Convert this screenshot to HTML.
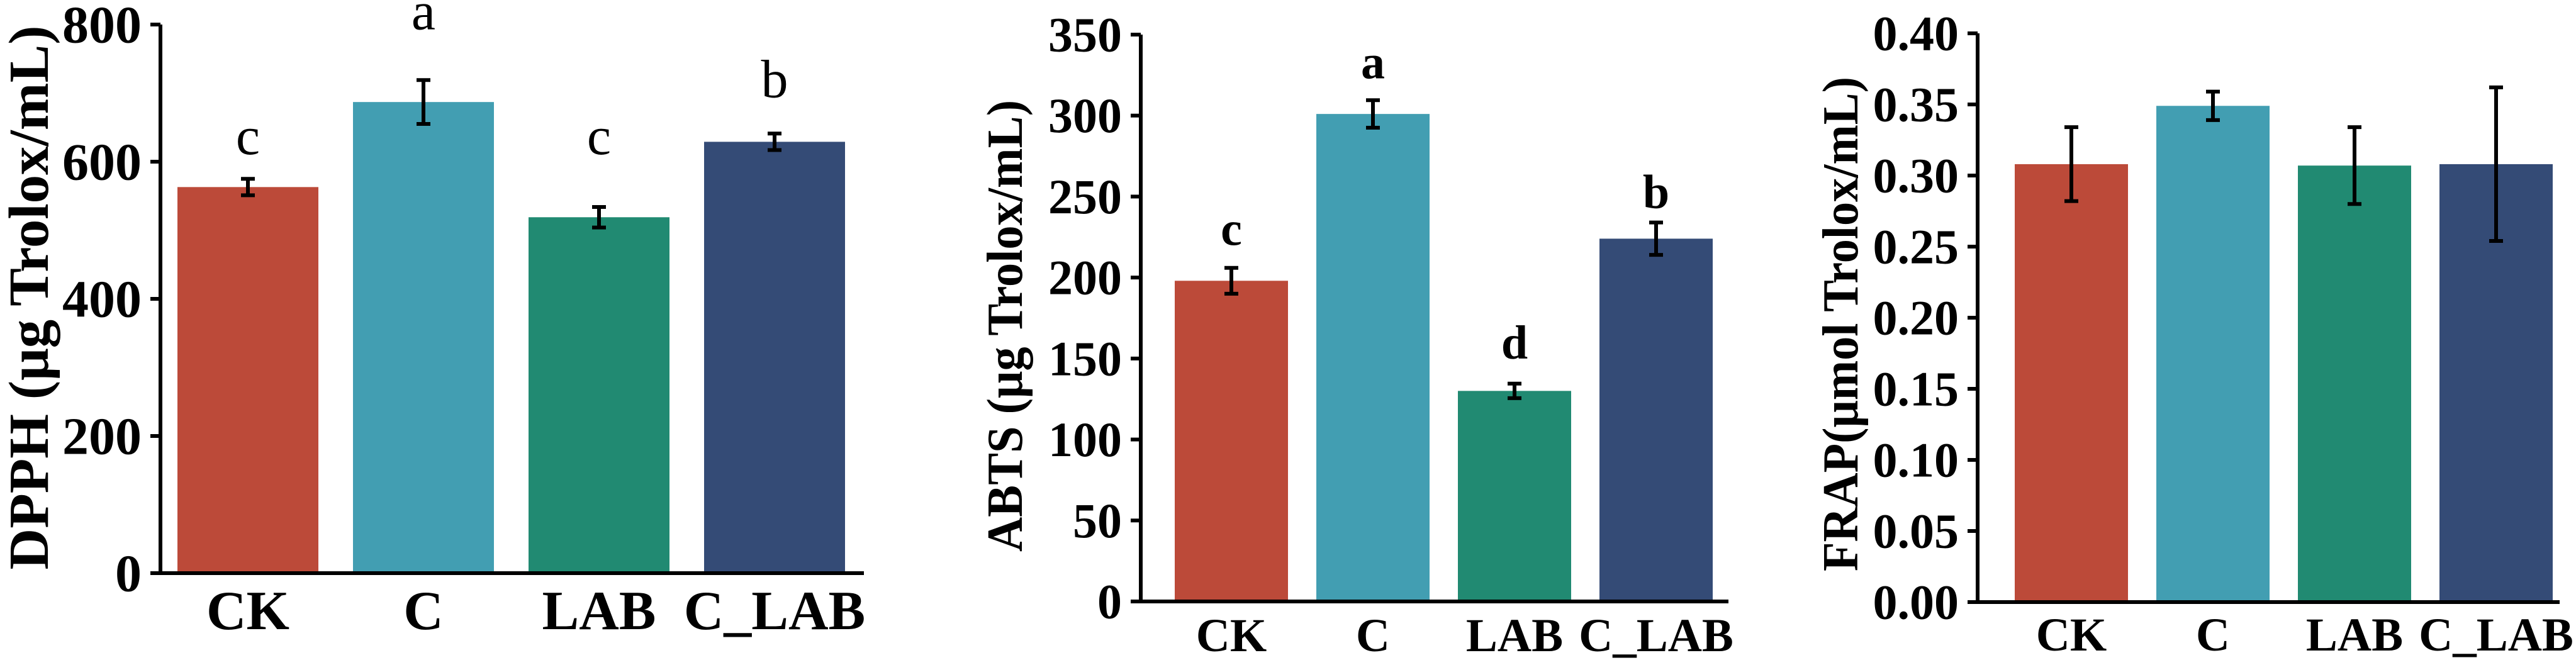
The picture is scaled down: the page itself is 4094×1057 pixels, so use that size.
<!DOCTYPE html>
<html><head><meta charset="utf-8"><style>
html,body{margin:0;padding:0;background:#fff;}
svg{display:block;font-family:"Liberation Serif","DejaVu Serif",serif;}
</style></head><body>
<svg id="chart" width="4094" height="1057" viewBox="0 0 4094 1057" xmlns="http://www.w3.org/2000/svg"></svg>
<script>
const categories = ["CK","C","LAB","C_LAB"];
const colors = ["#BC4A39","#429EB2","#218A72","#344B76"];
const dpphValues = [563, 687, 519, 629];
const dpphErrors = [12, 32, 15, 12];
const dpphLetters = ["c","a","c","b"];
const dpphLetterPos = [611, 793, 611, 694];
const dpphTicks = [0,200,400,600,800];
const abtsValues = [198, 301, 130, 224];
const abtsErrors = [8, 8.5, 4.5, 10];
const abtsLetters = ["c","a","d","b"];
const abtsLetterPos = [220, 323, 150, 243];
const abtsTicks = [0,50,100,150,200,250,300,350];
const frapValues = [0.308, 0.349, 0.307, 0.308];
const frapErrors = [0.026, 0.010, 0.027, 0.054];
const frapTicks = [0,0.05,0.10,0.15,0.20,0.25,0.30,0.35,0.40];
const frapTickLabels = ["0.00","0.05","0.10","0.15","0.20","0.25","0.30","0.35","0.40"];

const NS="http://www.w3.org/2000/svg";
const svg=document.getElementById('chart');
function mk(tag,attrs,parent){const e=document.createElementNS(NS,tag);for(const k in attrs)e.setAttribute(k,attrs[k]);(parent||svg).appendChild(e);return e;}

function panel(cfg){
  const g=mk('g',{});
  
  
  const y=v=>cfg.y0-(v-cfg.min)/(cfg.max-cfg.min)*(cfg.y0-cfg.yTop);
  const x=i=>cfg.firstLeft+i*cfg.pitch;
  // bars
  cfg.values.forEach((v,i)=>{
    const r=mk('rect',{x:x(i),y:y(v),width:cfg.bw,height:cfg.y0-y(v),fill:colors[i]},g);
    
    
    const cx=x(i)+cfg.bw/2, t=y(v+cfg.errors[i]), b=y(v-cfg.errors[i]);
    const eb=mk('path',{d:`M${cx},${t}V${b}M${cx-11},${t}H${cx+11}M${cx-11},${b}H${cx+11}`,stroke:'#000','stroke-width':6,fill:'none'},g);
    
    
    if(cfg.letters){
      const lt=mk('text',{x:cx,y:y(cfg.letterPos[i]),'text-anchor':'middle','font-size':cfg.letterSize,'font-weight':cfg.letterWeight},g);
      lt.textContent=cfg.letters[i];
      
      
    }
    const xl=mk('text',{x:cx,y:cfg.xLabelY,'text-anchor':'middle','font-size':cfg.xLabelSize,'font-weight':'bold'},g);
    xl.textContent=categories[i];
    
    
  });
  // axes
  const ax=mk('path',{d:`M${cfg.axisX},${cfg.yTop}V${cfg.y0}M${cfg.axisX-16},${cfg.y0}H${cfg.xEnd}`,stroke:'#000','stroke-width':6,fill:'none'},g);
  
  
  cfg.ticks.forEach((t,k)=>{
    const ty=y(t);
    const tk=mk('line',{x1:cfg.axisX-16,x2:cfg.axisX,y1:ty,y2:ty,stroke:'#000','stroke-width':6},g);
    
    
    const tl=mk('text',{x:cfg.axisX-30,y:ty+cfg.tickSize*0.34,'text-anchor':'end','font-size':cfg.tickSize,'font-weight':'bold'},g);
    tl.textContent=cfg.tickLabels?cfg.tickLabels[k]:String(t);
    
    
  });
  const tt=mk('text',{transform:`translate(${cfg.titleX},${cfg.titleMid}) rotate(-90)`,'text-anchor':'middle','font-size':cfg.titleSize,'font-weight':'bold',textLength:cfg.titleLen,lengthAdjust:'spacingAndGlyphs'},g);
  tt.textContent=cfg.title;
  
  
}

panel({name:'dpph-panel',values:dpphValues,errors:dpphErrors,letters:dpphLetters,letterPos:dpphLetterPos,letterSize:86,letterWeight:'normal',
  ticks:dpphTicks,min:0,max:800,y0:911,yTop:39,axisX:255,xEnd:1373,firstLeft:282,pitch:279,bw:224,
  xLabelY:1000,xLabelSize:88,tickSize:84,title:'DPPH (μg Trolox/mL)',titleX:76,titleMid:473,titleLen:865,titleSize:90});
panel({name:'abts-panel',values:abtsValues,errors:abtsErrors,letters:abtsLetters,letterPos:abtsLetterPos,letterSize:76,letterWeight:'bold',
  ticks:abtsTicks,min:0,max:350,y0:956,yTop:55,axisX:1813,xEnd:2747,firstLeft:1867,pitch:225,bw:180,
  xLabelY:1035,xLabelSize:75,tickSize:78,title:'ABTS (μg Trolox/mL)',titleX:1624,titleMid:518,titleLen:718,titleSize:80});
panel({name:'frap-panel',values:frapValues,errors:frapErrors,letters:null,
  ticks:frapTicks,tickLabels:frapTickLabels,min:0,max:0.4,y0:957,yTop:53,axisX:3143,xEnd:4068,firstLeft:3202,pitch:225,bw:180,
  xLabelY:1034,xLabelSize:75,tickSize:78,title:'FRAP(μmol Trolox/mL)',titleX:2952,titleMid:515,titleLen:786,titleSize:80});
</script>
</body></html>
